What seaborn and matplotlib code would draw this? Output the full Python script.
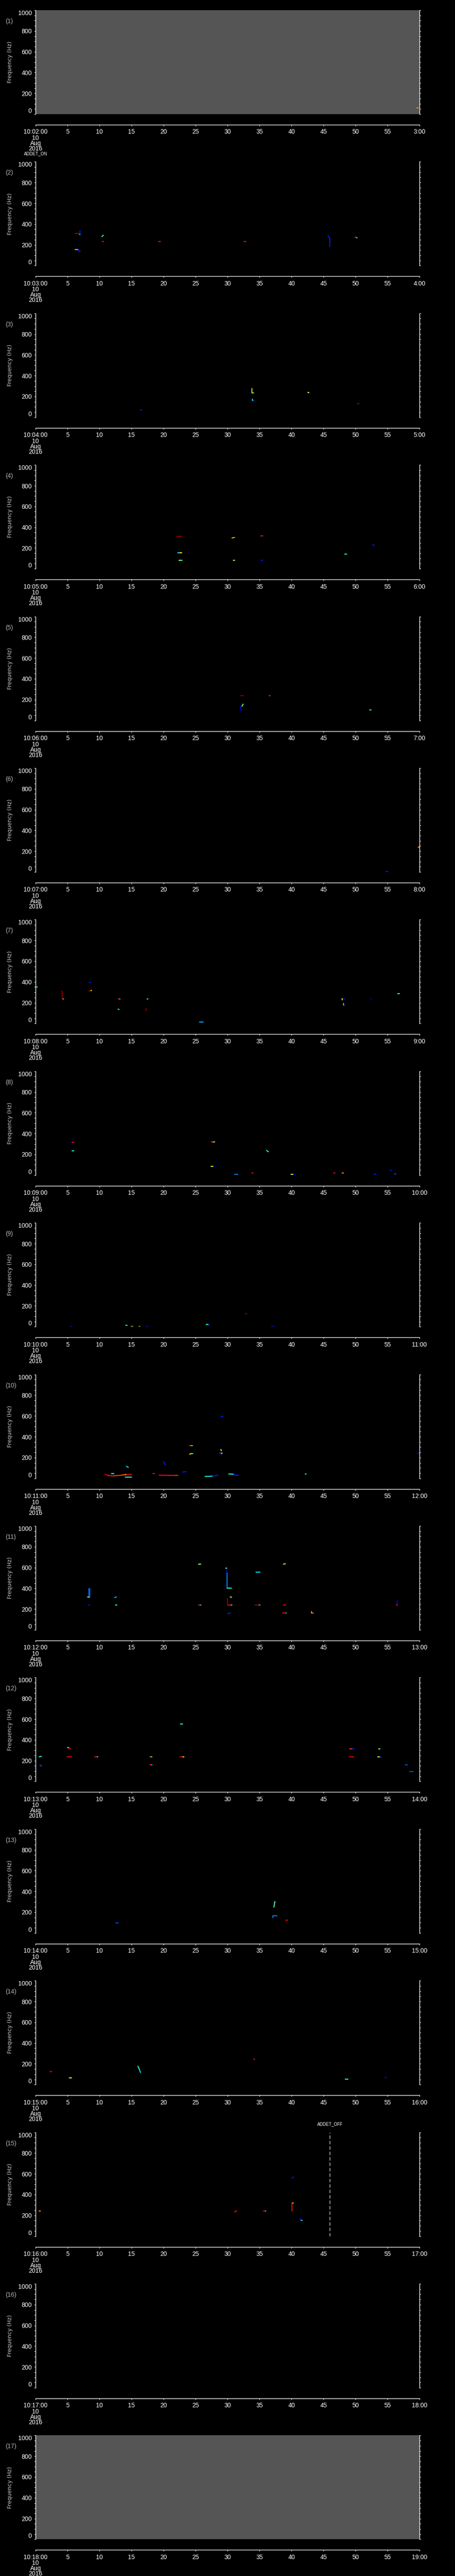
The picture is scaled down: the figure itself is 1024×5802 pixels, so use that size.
import pandas as pd
import seaborn as sns
import matplotlib
matplotlib.use("Agg")
import matplotlib.pyplot as plt
from matplotlib.ticker import MultipleLocator

# =============================
# DATA
# =============================

W, H = 1024, 5802
PANEL_MINUTES = list(range(2, 19))          # panels start 10:02 ... 10:18
GRAY_PANELS = [1, 17]
X_TICKS = list(range(0, 61, 5))
Y_TICKS = [0, 200, 400, 600, 800, 1000]
DATE_LINES = ["10", "Aug", "2016"]
# (panel, seconds, label)
EVENTS = [(2, 0.0, "ADDET_ON"), (15, 46.0, "ADDET_OFF")]

# marks: (t0, t1, f0, f1, level)  t in seconds, f in Hz, level 0..1 on the colour scale
MARKS_01 = [(59.6, 59.8, 61, 61, 0.75)]
MARKS_02 = [
    (6.15, 6.9, 311, 311, 0.98), (6.95, 6.95, 300, 333, 0.15), (6.85, 6.95, 302, 302, 0.35),
    (6.15, 6.6, 157, 157, 0.72), (6.75, 6.75, 157, 138, 0.15), (6.75, 7.0, 138, 138, 0.15),
    (10.35, 10.6, 279, 293, 0.38), (10.4, 10.6, 234, 234, 0.9), (19.25, 19.5, 232, 232, 0.9),
    (32.6, 32.85, 234, 234, 0.9), (45.7, 45.9, 290, 270, 0.15), (45.95, 45.95, 270, 184, 0.15),
    (49.9, 50.1, 276, 276, 0.9), (50.1, 50.25, 272, 268, 0.4),
]
MARKS_03 = [
    (33.8, 33.8, 236, 276, 0.7), (33.85, 34.1, 236, 236, 0.38), (33.9, 33.9, 176, 161, 0.35),
    (33.9, 34.1, 161, 161, 0.2), (42.55, 42.75, 236, 236, 0.15), (42.6, 42.7, 240, 240, 0.65),
    (50.3, 50.55, 132, 132, 0.98), (16.4, 16.6, 73, 67, 0.15),
]
MARKS_04 = [
    (22.1, 22.86, 314, 314, 0.98), (30.7, 31.1, 297, 302, 0.72), (35.2, 35.4, 316, 316, 0.88),
    (35.4, 35.7, 318, 318, 0.12), (52.7, 52.9, 235, 222, 0.15), (22.2, 22.6, 155, 155, 0.35),
    (22.6, 22.86, 155, 155, 0.63), (48.3, 48.6, 142, 142, 0.38), (22.4, 22.6, 80, 80, 0.63),
    (22.6, 22.9, 84, 84, 0.4), (30.9, 31.1, 82, 82, 0.55), (35.3, 35.5, 82, 82, 0.15),
]
MARKS_05 = [
    (32.1, 32.5, 238, 238, 0.98), (36.5, 36.7, 238, 238, 0.85), (32.25, 32.45, 136, 157, 0.5),
    (32.05, 32.05, 98, 136, 0.12), (52.2, 52.4, 101, 101, 0.38),
]
MARKS_06 = [(59.8, 60.0, 238, 238, 0.75), (54.8, 55.1, 3, 3, 0.15)]
MARKS_07 = [
    (0.0, 0.3, 354, 354, 0.38), (8.4, 8.6, 394, 394, 0.15), (8.36, 8.6, 314, 314, 0.98),
    (8.6, 8.75, 316, 316, 0.63), (4.15, 4.15, 238, 314, 0.98), (4.15, 4.4, 238, 238, 0.38),
    (12.9, 13.05, 238, 238, 0.9), (13.05, 13.2, 238, 238, 0.4), (12.9, 13.05, 139, 136, 0.38),
    (17.45, 17.6, 238, 238, 0.45), (17.3, 17.3, 141, 125, 0.98), (25.6, 26.2, 16, 16, 0.3),
    (47.95, 47.95, 228, 240, 0.65), (48.1, 48.35, 236, 236, 0.15), (48.15, 48.15, 196, 177, 0.75),
    (48.2, 48.35, 177, 177, 0.15), (52.35, 52.5, 238, 238, 0.05), (56.6, 56.9, 289, 289, 0.38),
]
MARKS_08 = [
    (5.5, 5.75, 315, 315, 0.05), (5.75, 6.0, 315, 315, 0.88), (5.7, 5.95, 236, 236, 0.38),
    (27.5, 27.7, 318, 318, 0.85), (27.7, 28.0, 318, 318, 0.58), (36.1, 36.4, 238, 225, 0.38),
    (27.4, 27.7, 85, 85, 0.63), (27.7, 27.9, 85, 85, 0.15), (31.1, 31.6, 8, 8, 0.25),
    (33.8, 34.0, 19, 19, 0.9), (39.9, 40.2, 8, 8, 0.63), (40.2, 40.5, 8, 8, 0.15),
    (46.6, 46.8, 19, 19, 0.9), (47.95, 48.1, 19, 19, 0.75), (52.9, 53.2, 8, 8, 0.15),
    (55.4, 55.6, 46, 46, 0.15), (56.1, 56.3, 11, 11, 0.2),
]
MARKS_09 = [
    (5.5, 5.7, 2, 2, 0.15), (14.1, 14.3, 12, 12, 0.38), (14.9, 15.05, 2, 2, 0.38),
    (15.05, 15.2, 2, 2, 0.63), (16.2, 16.35, 2, 2, 0.63), (17.3, 17.6, 2, 2, 0.15),
    (32.8, 33.0, 126, 126, 0.98), (26.7, 26.95, 24, 24, 0.38), (26.95, 27.2, 22, 14, 0.15),
    (36.9, 37.2, 2, 2, 0.15),
]
MARKS_10 = [
    (29.0, 29.3, 598, 592, 0.15), (24.0, 24.25, 316, 316, 0.88), (24.25, 24.5, 316, 316, 0.5),
    (28.95, 29.05, 278, 265, 0.5), (24.1, 24.3, 233, 236, 0.63), (24.3, 24.55, 239, 239, 0.4),
    (28.8, 28.95, 240, 240, 0.88), (28.95, 29.15, 240, 240, 0.63), (29.05, 29.15, 229, 235, 0.15),
    (59.7, 59.9, 241, 241, 0.15), (20.0, 20.3, 160, 128, 0.15), (14.2, 14.5, 116, 105, 0.35),
    (10.8, 11.2, 38, 36, 0.95), (11.2, 12.3, 28, 22, 0.88), (12.3, 13.5, 24, 30, 0.85),
    (13.5, 14.2, 32, 34, 0.8), (14.2, 15.0, 36, 38, 0.9), (12.2, 12.4, 26, 26, 0.63),
    (14.0, 14.2, 36, 36, 0.63), (11.9, 12.2, 45, 45, 0.4), (14.0, 15.0, 13, 13, 0.38),
    (18.3, 18.6, 45, 45, 0.9), (19.3, 22.2, 30, 27, 0.9), (20.8, 21.2, 28, 28, 0.63),
    (21.5, 22.2, 28, 28, 0.68), (23.0, 23.55, 60, 64, 0.15), (26.5, 27.6, 18, 20, 0.38),
    (27.6, 28.5, 22, 30, 0.15), (30.2, 30.9, 42, 40, 0.38), (30.9, 31.7, 34, 28, 0.15),
    (42.15, 42.3, 40, 40, 0.4),
]
MARKS_11 = [
    (8.35, 8.35, 313, 397, 0.22), (8.45, 8.45, 313, 397, 0.22), (8.15, 8.35, 317, 317, 0.55),
    (12.35, 12.65, 310, 317, 0.3), (8.25, 8.4, 238, 238, 0.15), (12.5, 12.7, 238, 238, 0.38),
    (25.5, 25.7, 631, 631, 0.63), (25.7, 25.85, 631, 631, 0.4), (25.5, 25.7, 238, 238, 0.88),
    (25.7, 25.85, 238, 238, 0.4), (29.75, 29.85, 593, 593, 0.55), (29.85, 29.85, 546, 593, 0.05),
    (29.9, 29.9, 400, 546, 0.25), (29.9, 30.6, 400, 400, 0.38), (30.4, 30.6, 317, 317, 0.55),
    (30.6, 30.6, 303, 308, 0.15), (30.0, 30.0, 238, 303, 0.98), (30.0, 30.5, 238, 238, 0.9),
    (30.5, 30.7, 238, 238, 0.4), (34.3, 34.85, 238, 238, 0.98), (34.85, 35.05, 238, 238, 0.4),
    (34.45, 35.1, 554, 554, 0.35), (38.75, 39.05, 632, 637, 0.55), (38.75, 39.1, 238, 238, 0.9),
    (38.6, 39.0, 161, 161, 0.9), (39.0, 39.2, 161, 161, 0.38), (30.0, 30.5, 156, 161, 0.15),
    (43.1, 43.1, 175, 161, 0.72), (43.1, 43.4, 161, 161, 0.78), (56.55, 56.55, 232, 282, 0.1),
    (56.4, 56.55, 238, 238, 0.9),
]
MARKS_12 = [
    (0.57, 0.93, 237, 242, 0.38), (0.7, 0.93, 158, 147, 0.2), (4.97, 5.2, 325, 325, 0.42),
    (5.2, 5.5, 314, 314, 0.9), (4.9, 5.6, 238, 238, 0.9), (9.23, 9.5, 238, 238, 0.9),
    (9.5, 9.73, 238, 238, 0.38), (17.94, 18.05, 238, 238, 0.75), (18.05, 18.2, 238, 238, 0.4),
    (17.85, 18.05, 161, 161, 0.9), (18.05, 18.2, 161, 161, 0.4), (22.66, 23.02, 554, 554, 0.38),
    (22.57, 22.95, 238, 238, 0.9), (22.95, 23.2, 238, 238, 0.63), (49.1, 49.45, 315, 315, 0.85),
    (49.45, 49.8, 315, 315, 0.15), (49.0, 49.7, 238, 238, 0.9), (53.6, 53.8, 315, 315, 0.5),
    (53.5, 53.75, 238, 238, 0.63), (53.8, 54.0, 228, 238, 0.15), (57.8, 58.1, 161, 161, 0.2),
    (58.5, 59.0, 97, 97, 0.2),
]
MARKS_13 = [
    (12.6, 12.9, 97, 97, 0.2), (37.25, 37.4, 249, 303, 0.45), (37.4, 37.4, 290, 303, 0.15),
    (37.1, 37.1, 148, 166, 0.25), (37.1, 37.7, 166, 166, 0.25), (39.1, 39.35, 123, 123, 0.9),
]
MARKS_14 = [
    (2.3, 2.5, 124, 124, 0.9), (5.3, 5.6, 65, 65, 0.6), (16.0, 16.2, 177, 150, 0.38),
    (16.2, 16.4, 150, 116, 0.35), (34.1, 34.25, 244, 244, 0.88), (48.4, 48.8, 52, 52, 0.38),
    (54.6, 54.85, 68, 68, 0.12),
]
MARKS_15 = [
    (0.55, 0.75, 243, 243, 0.75), (31.1, 31.45, 234, 243, 0.9), (35.6, 35.85, 243, 243, 0.9),
    (35.85, 36.0, 243, 243, 0.4), (40.1, 40.1, 243, 319, 0.9), (40.1, 40.3, 319, 319, 0.63),
    (40.1, 40.3, 559, 569, 0.15), (41.35, 41.5, 170, 150, 0.15), (41.5, 41.7, 150, 150, 0.38),
]
MARKS_16 = []
MARKS_17 = []

PANEL_MARKS = [MARKS_01, MARKS_02, MARKS_03, MARKS_04, MARKS_05, MARKS_06, MARKS_07,
               MARKS_08, MARKS_09, MARKS_10, MARKS_11, MARKS_12, MARKS_13, MARKS_14,
               MARKS_15, MARKS_16, MARKS_17]

# =============================
# STYLE / LAYOUT
# =============================

sns.set_style("dark")
plt.rcParams["font.family"] = ["Liberation Sans", "DejaVu Sans"]
plt.rcParams["axes.facecolor"] = "black"
plt.rcParams["figure.facecolor"] = "black"

JET = matplotlib.colormaps["jet"]
STEP = 341.4          # vertical pitch of the panels, px
LEFT, PLOT_W = 80, 864
TOP0, PLOT_H = 23, 234


def px_rect(left, top, width, height):
    return [left / W, 1 - (top + height) / H, width / W, height / H]


def fig_xy(x, y):
    return x / W, 1 - y / H


fig = plt.figure(figsize=(W / 100, H / 100), dpi=100)
fig.patch.set_facecolor("black")

for i, minute in enumerate(PANEL_MINUTES):
    k = i + 1
    o = i * STEP
    ax = fig.add_axes(px_rect(LEFT, TOP0 + o, PLOT_W, PLOT_H))
    ax.set_facecolor("#555555" if k in GRAY_PANELS else "black")

    segs = PANEL_MARKS[i]
    if segs:
        rows = []
        for j, (t0, t1, f0, f1, lev) in enumerate(segs):
            rows.append((j, t0, f0, lev))
            rows.append((j, t1, f1, lev))
        df = pd.DataFrame(rows, columns=["seg", "t", "f", "level"])
        sns.lineplot(data=df, x="t", y="f", units="seg", estimator=None, hue="level",
                     palette=JET, hue_norm=(0, 1), sort=False, legend=False,
                     lw=1.6, ax=ax)

    ax.set_xlim(0, 60)
    ax.set_ylim(0, 1000)
    ax.set_xlabel("")
    ax.set_ylabel("")
    ax.grid(False)

    # spines
    ax.spines["top"].set_visible(False)
    for s in ["left", "right", "bottom"]:
        ax.spines[s].set_visible(True)
        ax.spines[s].set_color("white")
        ax.spines[s].set_linewidth(1.0)
    ax.spines["bottom"].set_position(("outward", 24 * 0.72))

    # y axis
    ax.set_yticks(Y_TICKS, [str(v) for v in Y_TICKS])
    ylabels = ax.get_yticklabels()
    ylabels[0].set_verticalalignment("bottom")
    ylabels[-1].set_verticalalignment("top")
    ax.yaxis.set_minor_locator(MultipleLocator(50))
    ax.tick_params(axis="y", which="both", direction="out", colors="white",
                   left=True, right=True, labelleft=True, labelright=False,
                   labelsize=10, pad=3.5, width=0.8)
    ax.tick_params(axis="y", which="major", length=2.5)
    ax.tick_params(axis="y", which="minor", length=2.0)

    # time axis
    xlabels = [str(v) for v in X_TICKS]
    xlabels[0] = f"10:{minute:02d}:00"
    xlabels[-1] = f"{minute + 1}:00"
    ax.set_xticks(X_TICKS, xlabels)
    ax.tick_params(axis="x", direction="out", colors="white", bottom=True, top=False,
                   length=2.2, width=0.8, labelsize=10, pad=4.5)

    # date under first time label
    for n, line in enumerate(DATE_LINES):
        fig.text(*fig_xy(LEFT, 311 + o + 12 * n), line, ha="center", va="center",
                 color="white", fontsize=10)

    # panel number and frequency label
    fig.text(*fig_xy(12, 48 + o), f"({k})", ha="left", va="center",
             color="#b4b4b4", fontsize=10)
    fig.text(*fig_xy(23, 140 + o), "Frequency (Hz)", rotation=90, ha="center",
             va="center", color="#c8c8c8", fontsize=9, family="DejaVu Sans")

    for ek, et, elabel in EVENTS:
        if ek == k:
            ax.axvline(et, color="white", lw=0.8, dashes=(7, 4))
            fig.text(*fig_xy(LEFT + et * PLOT_W / 60, TOP0 + o - 18), elabel,
                     ha="center", va="center", color="white", fontsize=7)

fig.savefig("out.png", dpi=100, facecolor="black")
